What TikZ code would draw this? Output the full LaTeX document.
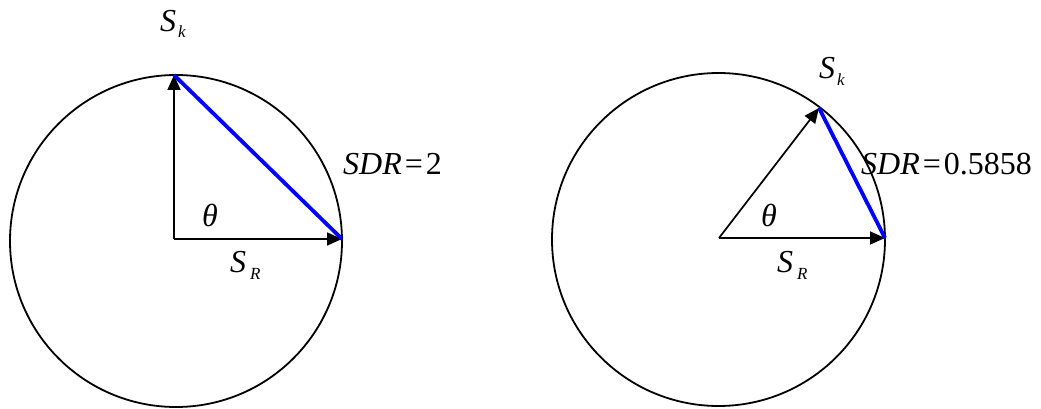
\documentclass[tikz,border=0pt]{standalone}
\usepackage{fontspec}
\setmainfont{Liberation Serif}
\usetikzlibrary{arrows.meta}
\tikzset{
  circ/.style={draw=black, line width=1.8pt},
  vec/.style={draw=black, line width=1.7pt, -{Triangle[length=15pt,width=13pt]}},
  chord/.style={draw=sdrblue, line width=3.8pt},
  lbl/.style={inner sep=0pt, anchor=base west, font=\fontsize{32}{32}\selectfont},
  sub/.style={inner sep=0pt, anchor=base west, font=\fontsize{17}{17}\selectfont\itshape},
}
\definecolor{sdrblue}{RGB}{0,0,255}
\begin{document}
\begin{tikzpicture}[x=1pt,y=-1pt]
\useasboundingbox (0,0) rectangle (1041,409);
% left diagram
\coordinate (oL) at (174,239);
\coordinate (kL) at (174,75);
\coordinate (rL) at (342,239);
\draw[circ] (176,241) circle[radius=166];
\draw[vec] (oL) -- (kL);
\draw[vec] (oL) -- (rL);
\draw[chord] (kL) -- (rL);
\node[lbl] (skL) at (160,32) {\itshape S};
\node[sub] (skLk) at (178,38) {k};
\node[lbl] (sdrL) at (343,174) {\itshape SDR\kern3pt\upshape=\kern3pt 2};
\node[lbl] (thL) at (202,226) {\itshape θ};
\node[lbl] (srL) at (230,272) {\itshape S};
\node[sub] (srLR) at (250,279) {R};
% right diagram
\coordinate (oR) at (719,238);
\coordinate (kR) at (819,108);
\coordinate (rR) at (885,238);
\draw[circ] (718.5,239.5) circle[radius=166.5];
\draw[vec] (oR) -- (kR);
\draw[vec] (oR) -- (rR);
\draw[chord] (kR) -- (rR);
\node[lbl] (skR) at (819,79) {\itshape S};
\node[sub] (skRk) at (837,86) {k};
\node[lbl] (sdrR) at (861,174) {\itshape SDR\kern3pt\upshape=\kern3pt 0.5858};
\node[lbl] (thR) at (761,226) {\itshape θ};
\node[lbl] (srR) at (777,272) {\itshape S};
\node[sub] (srRR) at (797,279) {R};
\end{tikzpicture}
\end{document}
